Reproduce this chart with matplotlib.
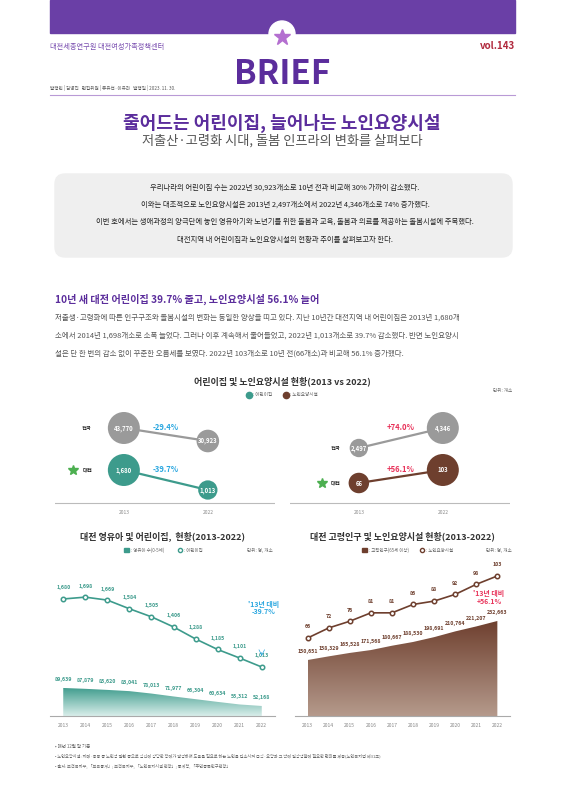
import matplotlib
matplotlib.use("Agg")
import matplotlib.pyplot as plt
import numpy as np
from matplotlib.patches import FancyBboxPatch, Rectangle, Polygon
from matplotlib.colors import LinearSegmentedColormap

plt.rcParams['font.family'] = ['Noto Sans CJK KR', 'DejaVu Sans']

# ---- data ----
years = [2013, 2014, 2015, 2016, 2017, 2018, 2019, 2020, 2021, 2022]
daycare = [1680, 1698, 1669, 1584, 1505, 1406, 1288, 1185, 1101, 1013]
infants = [89639, 87879, 85620, 83041, 78013, 71977, 66304, 60634, 55312, 52168]
nursing = [66, 72, 76, 81, 81, 86, 88, 92, 98, 103]
elderly = [150651, 158329, 165528, 171568, 180667, 188530, 198691, 210764, 221207, 232663]
cmp_years = ['2013', '2022']
dc_nation = [43770, 30923]
dc_daejeon = [1680, 1013]
nh_nation = [2497, 4346]
nh_daejeon = [66, 103]

TEAL = '#3d9b8c'; BROWN = '#6e3f2e'; GRAY = '#9a9a9a'; PURPLE = '#5b2d9c'
BLUE = '#2aa7e0'; RED = '#e8335a'

W, H = 565, 800
fig = plt.figure(figsize=(W/100, H/100), dpi=100)
bg = fig.add_axes([0, 0, 1, 1]); bg.set_xlim(0, W); bg.set_ylim(H, 0); bg.axis('off')

def rect(x0, y0, x1, y1):
    return [x0/W, 1-y1/H, (x1-x0)/W, (y1-y0)/H]

def T(x, y, s, size=5, color='#333', ha='center', weight='normal', **kw):
    bg.text(x, y, s, fontsize=size, color=color, ha=ha, va='center', fontweight=weight, **kw)

# header
bg.add_patch(Rectangle((50, 0), 465, 33, color='#6a3fa6'))
bg.add_patch(plt.Circle((282, 34), 13, color='white'))
bg.plot([282], [37], marker='*', ms=12, color='#b46fd0')
bg.plot([50, 515], [95, 95], color='#b99ad6', lw=0.8)
T(50, 47, '대전세종연구원 대전여성가족정책센터', 5.2, '#7a4fb0', 'left')
T(515, 46, 'vol.143', 7, '#b0283c', 'right', 'bold')
T(50, 88, '발행인 | 김영진   편집위원 | 류유선·이유라   발행일 | 2023. 11. 30.', 3.3, '#555', 'left')
T(282, 74, 'BRIEF', 24, PURPLE, weight='bold')
T(282, 123, '줄어드는 어린이집, 늘어나는 노인요양시설', 13, PURPLE, weight='bold')
T(282, 141, '저출산·고령화 시대, 돌봄 인프라의 변화를 살펴보다', 9.5, '#555')

bg.add_patch(FancyBboxPatch((55, 174), 457, 83, boxstyle='round,pad=0,rounding_size=10', color='#efefef'))
for y, s in zip([188, 205, 222, 240], [
        '우리나라의 어린이집 수는 2022년 30,923개소로 10년 전과 비교해 30% 가까이 감소했다.',
        '이와는 대조적으로 노인요양시설은 2013년 2,497개소에서 2022년 4,346개소로 74% 증가했다.',
        '이번 호에서는 생애과정의 양극단에 놓인 영유아기와 노년기를 위한 돌봄과 교육, 돌봄과 의료를 제공하는 돌봄시설에 주목했다.',
        '대전지역 내 어린이집과 노인요양시설의 현황과 추이를 살펴보고자 한다.']):
    T(285, y, s, 5.3, '#222')

T(55, 299, '10년 새 대전 어린이집 39.7% 줄고, 노인요양시설 56.1% 늘어', 7.3, PURPLE, 'left', 'bold')
for y, s in zip([318, 336, 354], [
        '저출생·고령화에 따른 인구구조와 돌봄시설의 변화는 동일한 양상을 띠고 있다. 지난 10년간 대전지역 내 어린이집은 2013년 1,680개',
        '소에서 2014년 1,698개소로 소폭 늘었다. 그러나 이후 계속해서 줄어들었고, 2022년 1,013개소로 39.7% 감소했다. 반면 노인요양시',
        '설은 단 한 번의 감소 없이 꾸준한 오름세를 보였다. 2022년 103개소로 10년 전(66개소)과 비교해 56.1% 증가했다.']):
    T(55, y, s, 5.4, '#555', 'left')

# bubble section
T(282, 381, '어린이집 및 노인요양시설 현황(2013 vs 2022)', 6.5, '#333', weight='bold')
bg.plot([249], [395], 'o', ms=4.5, color=TEAL); T(253, 395, ': 어린이집', 3.3, '#666', 'left')
bg.plot([286], [395], 'o', ms=4.5, color=BROWN); T(290, 395, ': 노인요양시설', 3.3, '#666', 'left')
T(512, 390, '단위: 개소', 3.3, '#666', 'right')

def bubble_panel(x0, x1, rows, pcts, pcol, labx, ys):
    ax = fig.add_axes(rect(x0, 405, x1, 520)); ax.set_xlim(-0.82, 1.8); ax.set_ylim(520, 405); ax.axis('off')
    ax.plot([-0.82, 1.8], [503, 503], color='#bbb', lw=0.8)
    for i, yr in enumerate(cmp_years):
        ax.text(i, 512, yr, fontsize=3.5, color='#888', ha='center', va='center')
    for (name, vals, c), (ya, yb), pct in zip(rows, ys, pcts):
        m = max(vals)
        yy = [ya, yb]
        ax.plot([0, 1], yy, color=c, lw=1.6, zorder=1)
        for i, v in enumerate(vals):
            r = 16*v/m
            ax.scatter(i, yy[i], s=(2*r*0.72)**2, color=c, zorder=2, edgecolors='none')
            ax.text(i, yy[i], f'{v:,}', fontsize=4.3, color='white', ha='center', va='center', fontweight='bold', zorder=3)
        ax.text(0.5, min(yy)-1, pct, fontsize=5.5, color=pcol, ha='center', va='center', fontweight='bold')
        ax.text(labx, ya, name, fontsize=3.8, color='#222', ha='right', va='center', fontweight='bold')
        if name == '대전':
            ax.plot([labx-0.22], [ya], marker='*', ms=7, color='#4caf50')
    return ax

bubble_panel(55, 275, [('전국', dc_nation, GRAY), ('대전', dc_daejeon, TEAL)],
             ['-29.4%', '-39.7%'], BLUE, -0.38, [(428, 441), (470, 490)])
bubble_panel(290, 510, [('전국', nh_nation, GRAY), ('대전', nh_daejeon, BROWN)],
             ['+74.0%', '+56.1%'], RED, -0.22, [(448, 428), (483, 470)])

# bottom charts
def gradient_area(ax, x, y, top, bottom, ylo):
    verts = [(x[0], ylo)] + list(zip(x, y)) + [(x[-1], ylo)]
    poly = Polygon(verts, closed=True, facecolor='none', edgecolor='none')
    ax.add_patch(poly)
    grad = np.linspace(0, 1, 256).reshape(-1, 1)
    cm = LinearSegmentedColormap.from_list('g', [top, bottom])
    im = ax.imshow(grad, cmap=cm, aspect='auto', extent=[x[0], x[-1], ylo, max(y)], origin='upper', zorder=1)
    im.set_clip_path(poly)

def line_chart(x0, x1, title, color, light, area, aylim, line, lylim):
    ax = fig.add_axes(rect(x0, 560, x1, 716))
    ax.set_xlim(years[0]-0.6, years[-1]+0.6); ax.set_ylim(*aylim)
    gradient_area(ax, years, area, color, light, aylim[0])
    for s in ax.spines.values(): s.set_visible(False)
    ax.spines['bottom'].set_visible(True); ax.spines['bottom'].set_color('#aaa')
    ax.set_yticks([]); ax.set_xticks(years)
    ax.tick_params(axis='x', length=0, labelsize=3.6, labelcolor='#888', pad=5)
    for xx, v in zip(years, area):
        ax.annotate(f'{v:,}', (xx, v), xytext=(0, 5), textcoords='offset points',
                    fontsize=3.8, color=color, ha='center', fontweight='bold')
    ax2 = ax.twinx(); ax2.set_ylim(*lylim); ax2.axis('off')
    ax2.plot(years, line, color=color, lw=1.2, marker='o', ms=3.2, mfc='white', mew=1.1)
    for xx, v in zip(years, line):
        ax2.annotate(f'{v:,}', (xx, v), xytext=(0, 7), textcoords='offset points',
                     fontsize=3.8, color=color, ha='center', fontweight='bold')
    T((x0+x1)/2, 536, title, 6.5, '#333', weight='bold')
    return ax, ax2

ax, ax2 = line_chart(50, 275, '대전 영유아 및 어린이집,  현황(2013-2022)', TEAL, '#d9eeea',
                     infants, (31300, 356000), daycare, (533, 2062))
ax2.annotate('\'13년 대비\n-39.7%', (years[-1], daycare[-1]), xytext=(1, 38), textcoords='offset points',
             fontsize=5, color=BLUE, ha='center', fontweight='bold', linespacing=1.1)
ax2.annotate('', (years[-1], daycare[-1]+80), xytext=(years[-1], daycare[-1]+170), arrowprops=dict(arrowstyle='->', color=BLUE, lw=0.5))
bg.add_patch(Rectangle((124, 548), 5, 4, color=TEAL)); T(131, 550, ': 영유아 수(0-5세)', 3.2, '#666', 'left')
bg.plot([180], [550], 'o', ms=3, mfc='white', mec=TEAL, mew=1); T(184, 550, ': 어린이집', 3.2, '#666', 'left')
T(273, 550, '단위: 명, 개소', 3.3, '#666', 'right')

ax, ax2 = line_chart(295, 510, '대전 고령인구 및 노인요양시설 현황(2013-2022)', BROWN, '#b59a8c',
                     elderly, (33000, 360800), nursing, (19.5, 112.5))
ax2.annotate('\'13년 대비\n+56.1%', (years[-1], nursing[-1]), xytext=(-6, -20), textcoords='offset points',
             fontsize=5, color=RED, ha='center', fontweight='bold', linespacing=1.1)
bg.add_patch(Rectangle((362, 548), 5, 4, color=BROWN)); T(369, 550, ': 고령인구(65세 이상)', 3.2, '#666', 'left')
bg.plot([422], [550], 'o', ms=3, mfc='white', mec=BROWN, mew=1); T(426, 550, ': 노인요양시설', 3.2, '#666', 'left')
T(512, 550, '단위: 명, 개소', 3.3, '#666', 'right')

T(55, 746, '• 매년 12월 말 기준', 3.2, '#666', 'left')
T(55, 756, '• 노인요양시설: 치매·중풍 등 노인성 질환 등으로 심신에 상당한 장애가 발생하여 도움을 필요로 하는 노인을 입소시켜 급식·요양과 그 밖에 일상생활에 필요한 편의를 제공(노인복지법 제31조)', 3.0, '#666', 'left')
T(55, 766, '• 출처: 보건복지부, 「보육통계」; 보건복지부, 「노인복지시설 현황」; 통계청, 「주민등록인구현황」', 3.0, '#666', 'left')

fig.savefig('out.png', dpi=100)
